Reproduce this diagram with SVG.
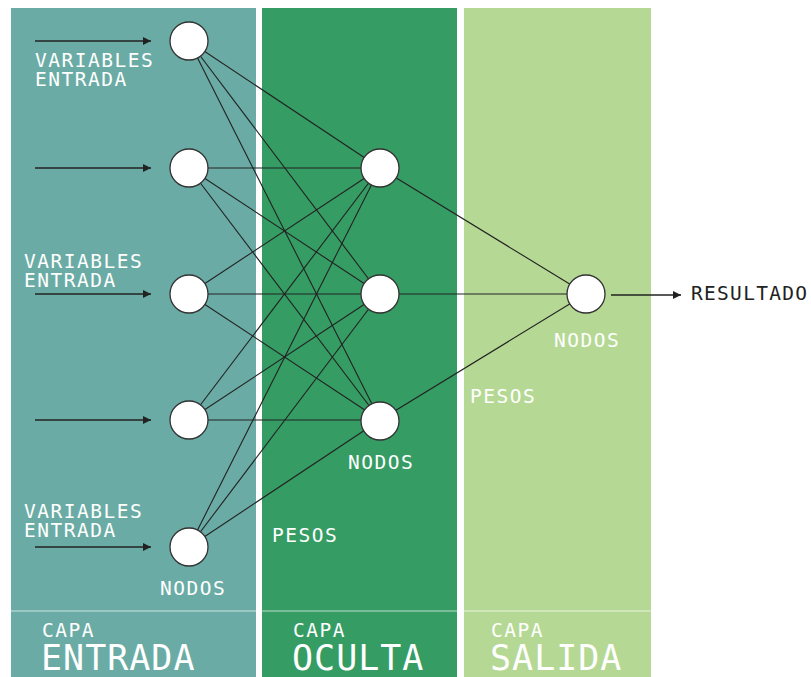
<svg xmlns="http://www.w3.org/2000/svg" width="811" height="677" viewBox="0 0 811 677">
<style>
.lbl{font-family:"DejaVu Sans Mono","Liberation Mono",monospace;fill:#ffffff;font-size:19.5px;letter-spacing:1.5px}
.big{font-family:"DejaVu Sans Mono","Liberation Mono",monospace;fill:#ffffff;font-size:35px;letter-spacing:1px}
.res{font-family:"DejaVu Sans Mono","Liberation Mono",monospace;fill:#222222;font-size:19.5px;letter-spacing:1.3px}
.edge{stroke:#222222;stroke-width:1.1;fill:none}
.arr{stroke:#222222;stroke-width:1.3;fill:none;marker-end:url(#ah)}
.node{fill:#ffffff;stroke:#333333;stroke-width:1.3}
.sep{stroke:#ffffff;stroke-opacity:0.45;stroke-width:1.5}
</style>
<defs>
<marker id="ah" viewBox="0 0 10 10" refX="10" refY="5" markerWidth="8" markerHeight="8" markerUnits="userSpaceOnUse" orient="auto">
<path d="M0,0 L10,5 L0,10 z" fill="#222222"/>
</marker>
</defs>
<rect width="811" height="677" fill="#ffffff"/>
<g id="panels">
<rect x="11" y="8" width="245" height="669" fill="#6aaca5"/>
<rect x="262" y="8" width="195" height="669" fill="#359c64"/>
<rect x="464" y="8" width="187" height="669" fill="#b5d994"/>
<line class="sep" x1="11" y1="611" x2="256" y2="611"/>
<line class="sep" x1="262" y1="611" x2="457" y2="611"/>
<line class="sep" x1="464" y1="611" x2="651" y2="611"/>
</g>
<g id="connectors">
<line class="edge" x1="189" y1="41" x2="380" y2="168"/>
<line class="edge" x1="189" y1="41" x2="380" y2="294"/>
<line class="edge" x1="189" y1="41" x2="380" y2="420"/>
<line class="edge" x1="189" y1="168" x2="380" y2="168"/>
<line class="edge" x1="189" y1="168" x2="380" y2="294"/>
<line class="edge" x1="189" y1="168" x2="380" y2="420"/>
<line class="edge" x1="189" y1="294" x2="380" y2="168"/>
<line class="edge" x1="189" y1="294" x2="380" y2="294"/>
<line class="edge" x1="189" y1="294" x2="380" y2="420"/>
<line class="edge" x1="189" y1="420" x2="380" y2="168"/>
<line class="edge" x1="189" y1="420" x2="380" y2="294"/>
<line class="edge" x1="189" y1="420" x2="380" y2="420"/>
<line class="edge" x1="189" y1="547" x2="380" y2="168"/>
<line class="edge" x1="189" y1="547" x2="380" y2="294"/>
<line class="edge" x1="189" y1="547" x2="380" y2="420"/>
<line class="edge" x1="380" y1="168" x2="586" y2="294"/>
<line class="edge" x1="380" y1="294" x2="586" y2="294"/>
<line class="edge" x1="380" y1="420" x2="586" y2="294"/>
<line class="arr" x1="35" y1="41" x2="151" y2="41"/>
<line class="arr" x1="35" y1="168" x2="151" y2="168"/>
<line class="arr" x1="35" y1="294" x2="151" y2="294"/>
<line class="arr" x1="35" y1="420" x2="151" y2="420"/>
<line class="arr" x1="35" y1="547" x2="151" y2="547"/>
<line class="arr" x1="611" y1="295" x2="681" y2="295"/>
</g>
<g id="in1"><circle class="node" cx="189" cy="41" r="19"/></g>
<g id="in2"><circle class="node" cx="189" cy="168" r="19"/></g>
<g id="in3"><circle class="node" cx="189" cy="294" r="19"/></g>
<g id="in4"><circle class="node" cx="189" cy="420" r="19"/></g>
<g id="in5"><circle class="node" cx="189" cy="547" r="19"/></g>
<g id="h1"><circle class="node" cx="380" cy="168" r="19"/></g>
<g id="h2"><circle class="node" cx="380" cy="294" r="19"/></g>
<g id="h3"><circle class="node" cx="380" cy="421" r="19"/></g>
<g id="out"><circle class="node" cx="586" cy="294" r="19"/></g>
<g id="labels">
<text class="lbl" x="35" y="67">VARIABLES<tspan x="35" dy="19">ENTRADA</tspan></text>
<text class="lbl" x="24" y="268">VARIABLES<tspan x="24" dy="19">ENTRADA</tspan></text>
<text class="lbl" x="24" y="518">VARIABLES<tspan x="24" dy="19">ENTRADA</tspan></text>
<text class="lbl" x="160" y="595">NODOS</text>
<text class="lbl" x="348" y="469">NODOS</text>
<text class="lbl" x="554" y="347">NODOS</text>
<text class="lbl" x="272" y="542">PESOS</text>
<text class="lbl" x="470" y="403">PESOS</text>
<text class="res" x="691" y="300">RESULTADO</text>
<text class="lbl" x="42" y="637">CAPA</text>
<text class="big" x="41" y="670">ENTRADA</text>
<text class="lbl" x="293" y="637">CAPA</text>
<text class="big" x="292" y="670">OCULTA</text>
<text class="lbl" x="491" y="637">CAPA</text>
<text class="big" x="490" y="670">SALIDA</text>
</g>
</svg>
